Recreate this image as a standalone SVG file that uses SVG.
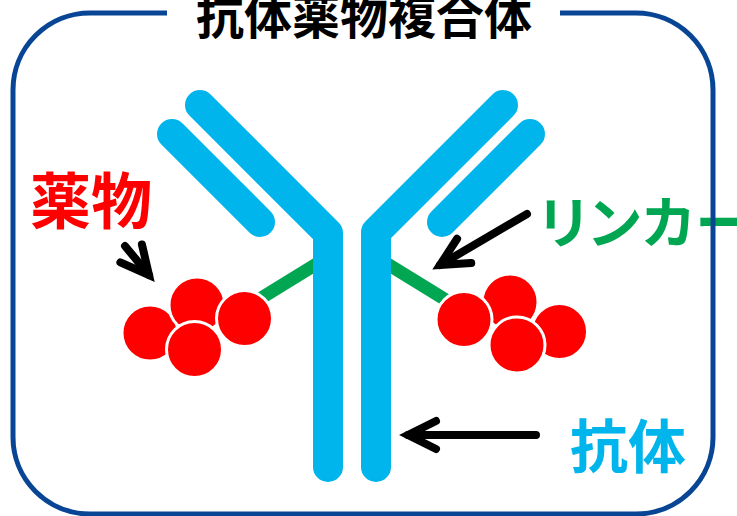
<svg xmlns="http://www.w3.org/2000/svg" width="737" height="516" viewBox="0 0 737 516">
  <style>
    .chain { fill: none; stroke: #00B4EC; stroke-width: 30; stroke-linecap: round; stroke-linejoin: round; }
    .linker { fill: none; stroke: #00A651; stroke-width: 13; stroke-linecap: butt; }
    .drug { fill: #FF0000; stroke: #FFFFFF; stroke-width: 3; }
    .arrow { fill: none; stroke: #000000; stroke-width: 8; stroke-linecap: round; }
    .label { font-family: "Noto Sans CJK JP", "Noto Sans CJK SC", sans-serif; font-weight: bold; }
    .frame { fill: none; stroke: #084594; stroke-width: 5; }
  </style>
  <defs>
    <marker id="openHead" markerUnits="userSpaceOnUse" markerWidth="60" markerHeight="60"
            viewBox="-40 -30 60 60" refX="0" refY="0" orient="auto" overflow="visible">
      <path d="M -28 -14 L 0 0 L -28 14" fill="none" stroke="#000000" stroke-width="8"
            stroke-linecap="round" stroke-linejoin="miter"/>
    </marker>
  </defs>

  <rect width="737" height="516" fill="#FFFFFF"/>

  <!-- title -->
  <g id="title">
    <text class="label" x="196" y="34" font-size="48" fill="#000000">抗体薬物複合体</text>
  </g>

  <!-- linkers sit beneath the antibody stems -->
  <g id="linker-left">
    <line class="linker" x1="336" y1="252" x2="258" y2="300"/>
  </g>
  <g id="linker-right">
    <line class="linker" x1="368" y1="252" x2="446" y2="300"/>
  </g>

  <!-- antibody: two heavy chains and two light chains -->
  <g id="antibody">
    <path class="chain" d="M 200 105 L 328 233 L 328 467"/>
    <path class="chain" d="M 172 134 L 260 222"/>
    <path class="chain" d="M 503 105 L 376 232 L 376 467"/>
    <path class="chain" d="M 530 134 L 442 222"/>
  </g>

  <!-- drug payload clusters -->
  <g id="drug-left">
    <circle class="drug" cx="150" cy="333" r="28"/>
    <circle class="drug" cx="197" cy="305" r="28"/>
    <circle class="drug" cx="244.5" cy="318.5" r="28"/>
    <circle class="drug" cx="194.5" cy="349.5" r="28"/>
  </g>
  <g id="drug-right">
    <circle class="drug" cx="559.5" cy="331.5" r="28"/>
    <circle class="drug" cx="510" cy="302" r="28"/>
    <circle class="drug" cx="464" cy="319.5" r="28"/>
    <circle class="drug" cx="517" cy="345" r="28"/>
  </g>

  <!-- labels -->
  <g id="label-drug">
    <text class="label" x="30" y="224" font-size="61" fill="#FF0000">薬物</text>
  </g>
  <g id="label-linker">
    <text class="label" x="539" y="243" font-size="56" fill="#00A651" letter-spacing="2" style="font-feature-settings: 'palt';">リンカー</text>
  </g>
  <g id="label-antibody">
    <text class="label" x="570" y="468" font-size="58" fill="#00B4EC">抗体</text>
  </g>

  <!-- pointer arrows -->
  <g id="connectors">
    <line class="arrow" x1="125" y1="246" x2="149" y2="275" marker-end="url(#openHead)"/>
    <line class="arrow" x1="527" y1="214" x2="440" y2="265" marker-end="url(#openHead)"/>
    <line class="arrow" x1="536" y1="435" x2="408" y2="435" marker-end="url(#openHead)"/>
  </g>

  <!-- rounded frame with a gap for the title -->
  <g id="frame">
    <path class="frame" d="M 167 13 L 90 13 A 77 77 0 0 0 13 90 L 13 437 A 77 77 0 0 0 90 514 L 636 514 A 77 77 0 0 0 713 437 L 713 90 A 77 77 0 0 0 636 13 L 560 13"/>
  </g>
</svg>
